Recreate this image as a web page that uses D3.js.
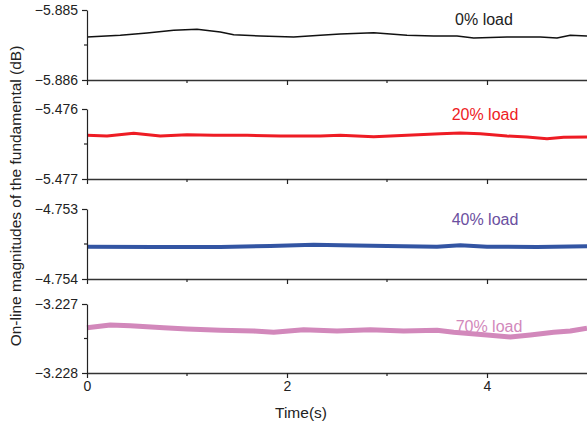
<!DOCTYPE html>
<html><head><meta charset="utf-8">
<script src="https://cdn.jsdelivr.net/npm/d3@7/dist/d3.min.js"></script>
<style>body{margin:0;background:#fff}svg{display:block;font-family:"Liberation Sans",Arial,sans-serif}</style>
</head><body>
<script>
// ---- data ----
const seriesNames = ["0% load", "20% load", "40% load", "70% load"];
const yTickLabels0 = [-5.886, -5.885];
const yTickLabels1 = [-5.477, -5.476];
const yTickLabels2 = [-4.754, -4.753];
const yTickLabels3 = [-3.228, -3.227];
const xTicks = [0, 2, 4];

const t0 = [0,0.333,0.6,0.867,1.1,1.333,1.467,1.733,2.067,2.333,2.533,2.867,3.2,3.467,3.7,3.867,4.2,4.533,4.7,4.833,5];
const v0 = [-5.885386,-5.885361,-5.885329,-5.885290,-5.885276,-5.885314,-5.885353,-5.885371,-5.885386,-5.885361,-5.885343,-5.885324,-5.885361,-5.885371,-5.885371,-5.885400,-5.885386,-5.885386,-5.885400,-5.885361,-5.885371];

const t1 = [0,0.2,0.467,0.733,1,1.267,1.6,1.933,2.333,2.533,2.867,3.2,3.533,3.733,3.933,4.2,4.4,4.6,4.767,5];
const v1 = [-5.476376,-5.476386,-5.476347,-5.476386,-5.476367,-5.476376,-5.476376,-5.476386,-5.476386,-5.476376,-5.476396,-5.476376,-5.476353,-5.476343,-5.476353,-5.476386,-5.476400,-5.476424,-5.476404,-5.476400];

const t2 = [0,0.667,1.333,1.833,2.267,2.533,3,3.5,3.733,4,4.5,5];
const v2 = [-4.753539,-4.753543,-4.753543,-4.753529,-4.753510,-4.753519,-4.753529,-4.753539,-4.753519,-4.753539,-4.753543,-4.753533];

const t3 = [0,0.233,0.433,0.767,1,1.333,1.667,1.867,2.167,2.5,2.833,3.167,3.5,3.667,4,4.233,4.433,4.667,4.833,5];
const v3 = [-3.227343,-3.227304,-3.227314,-3.227343,-3.227362,-3.227381,-3.227391,-3.227410,-3.227372,-3.227391,-3.227372,-3.227391,-3.227381,-3.227410,-3.227449,-3.227478,-3.227449,-3.227410,-3.227391,-3.227352];

// ---- layout ----
const W = 587, H = 430;
const left = 87, right = 587;
const panels = [
  {t: t0, v: v0, ticks: yTickLabels0, top: 10, bottom: 80, color: "#111111", width: 1.5, label: seriesNames[0], labelColor: "#222222", lx: 484, ly: 25},
  {t: t1, v: v1, ticks: yTickLabels1, top: 109, bottom: 179, color: "#ee1c24", width: 3, label: seriesNames[1], labelColor: "#ee1c24", lx: 485, ly: 120},
  {t: t2, v: v2, ticks: yTickLabels2, top: 209, bottom: 279, color: "#3355a3", width: 4, label: seriesNames[2], labelColor: "#6b4fa0", lx: 485, ly: 225},
  {t: t3, v: v3, ticks: yTickLabels3, top: 304, bottom: 373, color: "#d288bb", width: 5, label: seriesNames[3], labelColor: "#d288bb", lx: 489, ly: 332}
];

const svg = d3.select("body").append("svg").attr("width", W).attr("height", H);
const x = d3.scaleLinear().domain([0, 5]).range([left, right]);

panels.forEach((p, i) => {
  const y = d3.scaleLinear().domain([p.ticks[0], p.ticks[1]]).range([p.bottom, p.top]);
  const mid = (p.ticks[0] + p.ticks[1]) / 2;

  const line = d3.line().x((d, k) => x(p.t[k])).y(d => y(d)).curve(d3.curveLinear);
  svg.append("path").datum(p.v).attr("d", line)
    .attr("fill", "none").attr("stroke", p.color).attr("stroke-width", p.width)
    .attr("stroke-linejoin", "round");

  const ya = svg.append("g").attr("transform", `translate(${left},0)`)
    .call(d3.axisLeft(y).tickValues(p.ticks).tickFormat(d3.format(".3f")).tickSize(5).tickSizeOuter(0));
  ya.select(".domain").attr("stroke", "#222").attr("stroke-width", 1.2);
  ya.selectAll(".tick line").attr("stroke", "#222").attr("stroke-width", 1.2);
  ya.selectAll(".tick text").attr("font-size", 14).attr("fill", "#222").attr("x", -9)
    .attr("font-family", "'Liberation Sans', Arial, sans-serif");
  ya.append("line").attr("x1", 0).attr("x2", -3).attr("y1", y(mid)).attr("y2", y(mid))
    .attr("stroke", "#222").attr("stroke-width", 1.2);

  const xa = svg.append("g").attr("transform", `translate(0,${p.bottom})`)
    .call(d3.axisBottom(x).tickValues(xTicks).tickFormat(i === 3 ? d3.format("d") : "").tickSize(5).tickSizeOuter(0));
  xa.select(".domain").attr("stroke", "#333").attr("stroke-width", 1.5);
  xa.selectAll(".tick line").attr("stroke", "#222").attr("stroke-width", 1.2);
  xa.selectAll(".tick text").attr("font-size", 14).attr("fill", "#222").attr("y", 8)
    .attr("font-family", "'Liberation Sans', Arial, sans-serif");
  xa.selectAll(".minor").data([1, 3]).enter().append("line")
    .attr("x1", d => x(d)).attr("x2", d => x(d)).attr("y1", 0).attr("y2", 3)
    .attr("stroke", "#222").attr("stroke-width", 1.2);

  svg.append("text").attr("x", p.lx).attr("y", p.ly).attr("text-anchor", "middle")
    .attr("font-size", 16).attr("fill", p.labelColor).text(p.label);
});

svg.append("text").attr("x", 301).attr("y", 418).attr("text-anchor", "middle")
  .attr("font-size", 15.5).attr("fill", "#222").text("Time(s)");
svg.append("text").attr("transform", "translate(21,196) rotate(-90)").attr("text-anchor", "middle")
  .attr("font-size", 15.5).attr("fill", "#222").text("On-line magnitudes of the fundamental (dB)");
</script>
</body></html>
